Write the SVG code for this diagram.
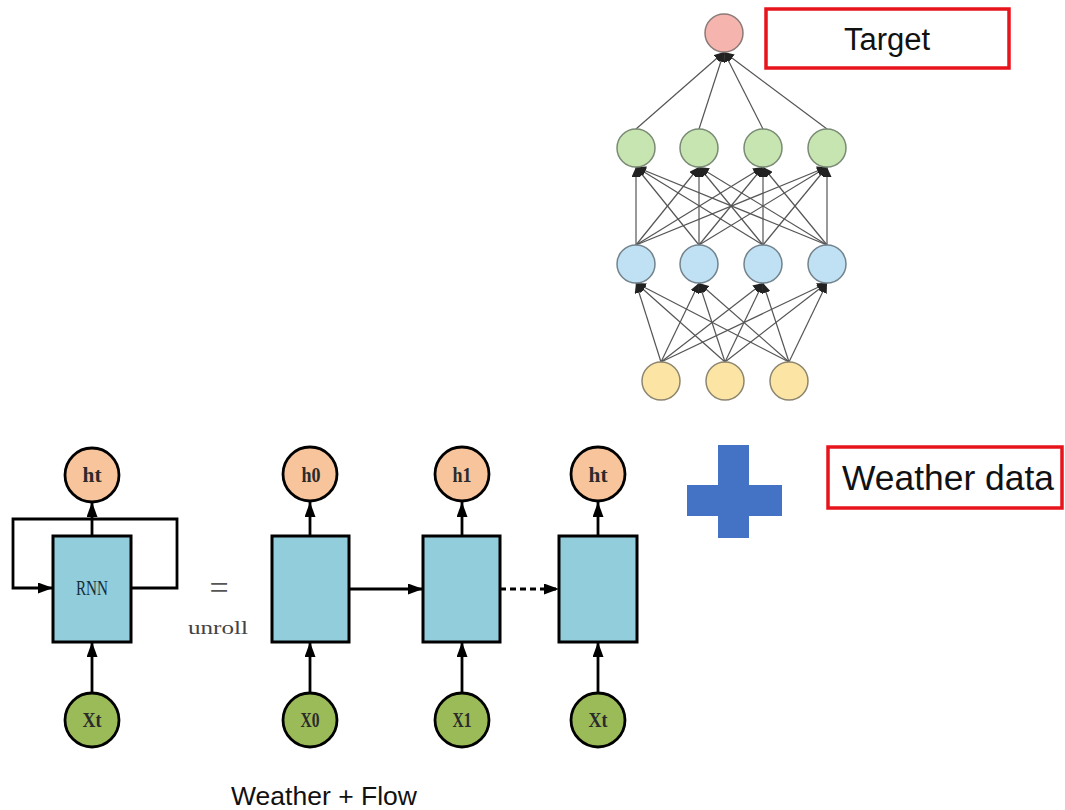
<svg xmlns="http://www.w3.org/2000/svg" width="1065" height="810" viewBox="0 0 1065 810">
<defs>
<marker id="nnArrow" markerUnits="userSpaceOnUse" markerWidth="10" markerHeight="9" refX="10" refY="4.5" orient="auto"><path d="M0,0 L10,4.5 L0,9 z" fill="#222"/></marker>
<marker id="rArrow" markerUnits="userSpaceOnUse" markerWidth="15" markerHeight="11" refX="15" refY="5.5" orient="auto"><path d="M0,0 L15,5.5 L0,11 z" fill="#000"/></marker>
</defs>
<style>
.nn{stroke:#555;stroke-width:1.2;fill:none;marker-end:url(#nnArrow)}
.ra{stroke:#000;stroke-width:2.8;fill:none;marker-end:url(#rArrow)}
.pink{fill:#F5B5AE;stroke:#8a7a78;stroke-width:1.5}
.green{fill:#C6E5B1;stroke:#7a8a74;stroke-width:1.5}
.blue{fill:#BFE1F3;stroke:#73838c;stroke-width:1.5}
.yellow{fill:#FCE4A4;stroke:#8c8670;stroke-width:1.5}
.hc{fill:#F8C49C;stroke:#000;stroke-width:2.8}
.xc{fill:#9BBB59;stroke:#000;stroke-width:2.8}
.box{fill:#92CDDC;stroke:#000;stroke-width:3}
.ct{font-family:"Liberation Serif",serif;font-weight:bold;font-size:20px;fill:#2b2b2b;text-anchor:middle}
.redbox{fill:#fff;stroke:#E8141B;stroke-width:3.5}
.lbl{font-family:"Liberation Sans",Arial,sans-serif;fill:#111}
</style>
<rect width="1065" height="810" fill="#fff"/>
<g id="connectors">
<line class="nn" x1="636" y1="129" x2="724" y2="52"/>
<line class="nn" x1="699" y1="129" x2="724" y2="52"/>
<line class="nn" x1="763" y1="129" x2="724" y2="52"/>
<line class="nn" x1="827" y1="129" x2="724" y2="52"/>
<line class="nn" x1="636" y1="245" x2="636" y2="167"/>
<line class="nn" x1="636" y1="245" x2="699" y2="167"/>
<line class="nn" x1="636" y1="245" x2="763" y2="167"/>
<line class="nn" x1="636" y1="245" x2="827" y2="167"/>
<line class="nn" x1="699" y1="245" x2="636" y2="167"/>
<line class="nn" x1="699" y1="245" x2="699" y2="167"/>
<line class="nn" x1="699" y1="245" x2="763" y2="167"/>
<line class="nn" x1="699" y1="245" x2="827" y2="167"/>
<line class="nn" x1="763" y1="245" x2="636" y2="167"/>
<line class="nn" x1="763" y1="245" x2="699" y2="167"/>
<line class="nn" x1="763" y1="245" x2="763" y2="167"/>
<line class="nn" x1="763" y1="245" x2="827" y2="167"/>
<line class="nn" x1="827" y1="245" x2="636" y2="167"/>
<line class="nn" x1="827" y1="245" x2="699" y2="167"/>
<line class="nn" x1="827" y1="245" x2="763" y2="167"/>
<line class="nn" x1="827" y1="245" x2="827" y2="167"/>
<line class="nn" x1="661" y1="362" x2="636" y2="283"/>
<line class="nn" x1="661" y1="362" x2="699" y2="283"/>
<line class="nn" x1="661" y1="362" x2="763" y2="283"/>
<line class="nn" x1="661" y1="362" x2="827" y2="283"/>
<line class="nn" x1="725" y1="362" x2="636" y2="283"/>
<line class="nn" x1="725" y1="362" x2="699" y2="283"/>
<line class="nn" x1="725" y1="362" x2="763" y2="283"/>
<line class="nn" x1="725" y1="362" x2="827" y2="283"/>
<line class="nn" x1="789" y1="362" x2="636" y2="283"/>
<line class="nn" x1="789" y1="362" x2="699" y2="283"/>
<line class="nn" x1="789" y1="362" x2="763" y2="283"/>
<line class="nn" x1="789" y1="362" x2="827" y2="283"/>
<path class="ra" d="M131,588 H177 V519 H13 V588 H53"/>
<path class="ra" d="M92,536 V502"/>
<path class="ra" d="M92,692 V642"/>
<path class="ra" d="M310,536 V502"/>
<path class="ra" d="M462,536 V502"/>
<path class="ra" d="M598,536 V502"/>
<path class="ra" d="M310,692 V642"/>
<path class="ra" d="M462,692 V642"/>
<path class="ra" d="M598,692 V642"/>
<path class="ra" d="M349,589 H423"/>
<path class="ra" d="M500,589 H559" stroke-dasharray="6,4"/>
</g>
<g id="nn-out"><circle class="pink" cx="724" cy="33" r="19"/></g>
<g id="nn-h2-1"><circle class="green" cx="636" cy="148" r="19"/></g>
<g id="nn-h2-2"><circle class="green" cx="699" cy="148" r="19"/></g>
<g id="nn-h2-3"><circle class="green" cx="763" cy="148" r="19"/></g>
<g id="nn-h2-4"><circle class="green" cx="827" cy="148" r="19"/></g>
<g id="nn-h1-1"><circle class="blue" cx="636" cy="264" r="19"/></g>
<g id="nn-h1-2"><circle class="blue" cx="699" cy="264" r="19"/></g>
<g id="nn-h1-3"><circle class="blue" cx="763" cy="264" r="19"/></g>
<g id="nn-h1-4"><circle class="blue" cx="827" cy="264" r="19"/></g>
<g id="nn-in-1"><circle class="yellow" cx="661" cy="381" r="19"/></g>
<g id="nn-in-2"><circle class="yellow" cx="725" cy="381" r="19"/></g>
<g id="nn-in-3"><circle class="yellow" cx="789" cy="381" r="19"/></g>
<g id="target"><rect class="redbox" x="766" y="9" width="243" height="59"/><text class="lbl" x="887" y="50" font-size="31" text-anchor="middle">Target</text></g>
<g id="plus"><path d="M718,445 H749 V485 H782 V516 H749 V538 H718 V516 H687 V485 H718 Z" fill="#4472C4"/></g>
<g id="weather"><rect class="redbox" x="828" y="447" width="234" height="61"/><text class="lbl" x="842" y="490" font-size="35" textLength="212" lengthAdjust="spacingAndGlyphs">Weather data</text></g>
<g id="rnn-h"><circle class="hc" cx="92" cy="475" r="27"/><text class="ct" x="92" y="482" textLength="19" lengthAdjust="spacingAndGlyphs">ht</text></g>
<g id="rnn-box"><rect class="box" x="53" y="536" width="78" height="106"/><text x="92" y="595" font-family="Liberation Serif,serif" font-size="22" fill="#14303c" text-anchor="middle" textLength="32" lengthAdjust="spacingAndGlyphs">RNN</text></g>
<g id="rnn-x"><circle class="xc" cx="92" cy="720" r="27"/><text class="ct" x="92" y="727" textLength="19" lengthAdjust="spacingAndGlyphs">Xt</text></g>
<g id="equals"><text x="219" y="599" font-family="Liberation Serif,serif" font-size="34" fill="#555" text-anchor="middle">=</text><text x="188" y="634" font-family="Liberation Serif,serif" font-size="18" fill="#444" textLength="60" lengthAdjust="spacingAndGlyphs">unroll</text></g>
<g id="h0"><circle class="hc" cx="310" cy="474" r="27"/><text class="ct" x="311" y="482" textLength="19" lengthAdjust="spacingAndGlyphs">h0</text></g>
<g id="h1"><circle class="hc" cx="462" cy="474" r="27"/><text class="ct" x="462" y="482" textLength="19" lengthAdjust="spacingAndGlyphs">h1</text></g>
<g id="ht"><circle class="hc" cx="598" cy="474" r="27"/><text class="ct" x="598" y="482" textLength="19" lengthAdjust="spacingAndGlyphs">ht</text></g>
<g id="box0"><rect class="box" x="272" y="536" width="77" height="106"/></g>
<g id="box1"><rect class="box" x="423" y="536" width="77" height="106"/></g>
<g id="boxt"><rect class="box" x="559" y="536" width="78" height="106"/></g>
<g id="x0"><circle class="xc" cx="310" cy="720" r="27"/><text class="ct" x="310" y="727" textLength="19" lengthAdjust="spacingAndGlyphs">X0</text></g>
<g id="x1"><circle class="xc" cx="462" cy="720" r="27"/><text class="ct" x="462" y="727" textLength="19" lengthAdjust="spacingAndGlyphs">X1</text></g>
<g id="xt"><circle class="xc" cx="598" cy="720" r="27"/><text class="ct" x="598" y="727" textLength="19" lengthAdjust="spacingAndGlyphs">Xt</text></g>
<g id="caption"><text class="lbl" x="231" y="805" font-size="25" textLength="186" lengthAdjust="spacingAndGlyphs">Weather + Flow</text></g>
</svg>
